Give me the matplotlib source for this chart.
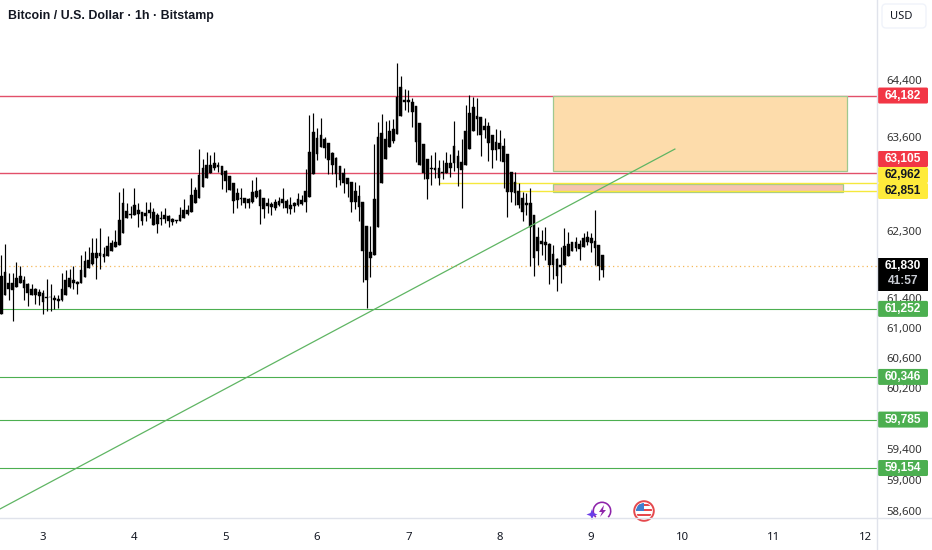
import matplotlib
matplotlib.use("Agg")
import matplotlib.pyplot as plt
import numpy as np
from matplotlib.patches import Circle, FancyBboxPatch, Polygon, Rectangle, Wedge

W, H = 932, 550
PANEL_X, PANEL_Y = 877, 518
FONT = "Noto Sans"
BOLD_FONT = "Liberation Sans"

# hours since the 3rd, one bar per hour
first_hour = -11

wick_high = [
    61982, 62130, 61736, 61736, 61880, 61825, 61700, 61602, 61593, 61535,
    61522, 61504, 61656, 61580, 61445, 61441, 61736, 61781, 61790, 61825,
    61624, 61978, 62027, 62094, 62207, 62207, 62345, 62094, 62240, 62185,
    62322, 62846, 62892, 62686, 62641, 62892, 62686, 62572, 62696, 62696,
    62618, 62550, 62586, 62618, 62518, 62481, 62458, 62632, 62746, 62664,
    63028, 62905, 63440, 63302, 63393, 63347, 63393, 63256, 63198, 63145,
    63063, 62970, 62892, 62892, 62764, 62764, 63006, 63051, 62878, 62755,
    62755, 62709, 62741, 62778, 62892, 62741, 62769, 62709, 62823, 62800,
    63151, 63909, 63942, 63723, 63863, 63597, 63513, 63397, 63325, 63198,
    63165, 63028, 62983, 62974, 62937, 62709, 62376, 62376, 63504, 63816,
    63923, 63830, 63839, 63849, 64645, 64459, 64268, 64259, 64142, 64035,
    63793, 63499, 63302, 63347, 63388, 63279, 63279, 63388, 63370, 63825,
    63420, 63574, 64049, 64189, 64166, 64142, 63886, 63863, 63816, 63630,
    63714, 63700, 63592, 63370, 63110, 63110, 62960, 62846, 62823, 62892,
    62527, 62367, 62322, 62367, 62139, 62117, 61937, 62094, 62345, 62290,
    62162, 62230, 62185, 62276, 62299, 62276, 62595, 62117, 61982,
]
body_top = [
    61700, 61745, 61602, 61602, 61670, 61691, 61638, 61593, 61526, 61522,
    61481, 61459, 61410, 61414, 61401, 61387, 61522, 61647, 61670, 61638,
    61620, 61781, 61893, 61915, 62004, 62004, 62013, 61995, 62108, 62139,
    62162, 62458, 62686, 62586, 62540, 62659, 62591, 62563, 62550, 62595,
    62563, 62527, 62481, 62518, 62504, 62467, 62458, 62522, 62595, 62595,
    62800, 62869, 63074, 63165, 63211, 63211, 63243, 63211, 63198, 63136,
    63063, 62970, 62832, 62764, 62755, 62741, 62837, 62855, 62869, 62755,
    62686, 62673, 62700, 62723, 62741, 62723, 62664, 62686, 62750, 62732,
    62855, 63397, 63676, 63583, 63630, 63569, 63513, 63384, 63316, 63198,
    63097, 63028, 62983, 62860, 62787, 62709, 62376, 62018, 62746, 63597,
    63662, 63569, 63690, 63709, 64166, 64296, 64119, 64119, 64096, 64035,
    63793, 63499, 63302, 63165, 63174, 63165, 63119, 63234, 63243, 63481,
    63338, 63257, 63686, 63942, 64026, 63895, 63877, 63760, 63760, 63630,
    63536, 63513, 63481, 63361, 63110, 62974, 62855, 62755, 62686, 62686,
    62527, 62230, 62171, 62153, 62130, 61991, 61928, 61848, 62108, 62126,
    62153, 62153, 62126, 62217, 62230, 62217, 62171, 62117, 61982,
]
body_bottom = [
    61177, 61436, 61513, 61500, 61548, 61602, 61535, 61460, 61445, 61432,
    61423, 61343, 61401, 61405, 61369, 61356, 61369, 61445, 61548, 61602,
    61580, 61602, 61682, 61803, 61861, 61937, 61960, 61951, 61968, 62036,
    62085, 62117, 62285, 62481, 62527, 62527, 62536, 62436, 62504, 62550,
    62390, 62404, 62472, 62472, 62445, 62422, 62436, 62440, 62481, 62536,
    62563, 62686, 62755, 62914, 63028, 63106, 63165, 63179, 63068, 62985,
    62870, 62723, 62732, 62746, 62686, 62686, 62709, 62778, 62650, 62609,
    62641, 62632, 62618, 62664, 62686, 62618, 62609, 62641, 62664, 62677,
    62705, 62778, 63088, 63370, 63467, 63443, 63279, 63211, 63088, 63006,
    62960, 62946, 62709, 62709, 62632, 62040, 61647, 61937, 61973, 62367,
    62970, 63302, 63467, 63550, 63639, 63895, 64096, 64086, 63947, 63527,
    63211, 63097, 63015, 63151, 63142, 63037, 63097, 63097, 63174, 63234,
    63165, 63142, 63206, 63434, 63686, 63853, 63630, 63700, 63513, 63420,
    63420, 63434, 63257, 62846, 62846, 62823, 62664, 62572, 62664, 62367,
    61937, 62027, 62126, 62117, 61848, 61848, 61691, 61812, 61838, 61960,
    62027, 62081, 62063, 62094, 62162, 62139, 62081, 61825, 61781,
]
wick_low = [
    61177, 61436, 61378, 61088, 61548, 61602, 61378, 61289, 61445, 61311,
    61298, 61177, 61222, 61222, 61253, 61267, 61356, 61445, 61535, 61513,
    61455, 61602, 61682, 61803, 61848, 61656, 61790, 61879, 61968, 62036,
    62085, 62117, 62285, 62481, 62481, 62527, 62354, 62390, 62449, 62481,
    62390, 62285, 62390, 62413, 62367, 62390, 62413, 62440, 62481, 62527,
    62563, 62686, 62755, 62914, 63028, 63097, 63142, 63119, 62878, 62846,
    62870, 62550, 62618, 62664, 62618, 62627, 62686, 62755, 62404, 62481,
    62550, 62518, 62595, 62650, 62618, 62550, 62540, 62572, 62641, 62664,
    62559, 62778, 63088, 63288, 63467, 63316, 63088, 63088, 62905, 62937,
    62823, 62769, 62572, 62604, 62436, 61611, 61260, 61682, 61973, 62367,
    62970, 63302, 63467, 63513, 63639, 63895, 63979, 63956, 63746, 63250,
    63211, 63019, 62741, 62937, 63028, 62937, 63019, 63097, 63051, 63128,
    62928, 62618, 63206, 63434, 63686, 63630, 63338, 63592, 63270, 63174,
    63279, 63270, 62892, 62495, 62709, 62664, 62627, 62436, 62527, 61825,
    61691, 61838, 61982, 61915, 61580, 61660, 61490, 61602, 61838, 61960,
    62027, 62027, 61915, 62094, 62117, 62018, 61848, 61647, 61678,
]

last_price = 61830
red_levels = [64182, 63105]
green_levels = [61252, 60346, 59785, 59154]
yellow_levels = [62962, 62851]
yellow_start_hours = [104, 124.5]

trend_hours = [-11.3, 166]
trend_prices = [58626, 63434]

zone_orange_hours = [134, 211.2]
zone_orange_prices = [63135, 64182]
zone_pink_hours = [134, 210.2]
zone_pink_prices = [62842, 62952]

price_ticks = [64400, 63600, 62300, 61400, 61000, 60600, 60200, 59400, 59000, 58600]
day_labels = [3, 4, 5, 6, 7, 8, 9, 10, 11, 12]
title_text = "Bitcoin / U.S. Dollar · 1h · Bitstamp"

RED = "#f23645"
GREEN = "#4caf50"
YELLOW = "#ffeb3b"
TEXT = "#131722"
BORDER = "#e0e3eb"

fig = plt.figure(figsize=(W / 100, H / 100), dpi=100, facecolor="white")
ax = fig.add_axes([0, (H - PANEL_Y) / H, PANEL_X / W, PANEL_Y / H])

hours = first_hour + np.arange(len(wick_high))
ax.vlines(hours, wick_low, wick_high, color="black", lw=0.85, zorder=3)
ax.bar(
    hours,
    np.array(body_top) - np.array(body_bottom),
    bottom=body_bottom,
    width=0.72,
    color="black",
    linewidth=0.3,
    edgecolor="black",
    zorder=3,
)

for p in red_levels:
    ax.axhline(p, color="#e2506a", lw=1.0, zorder=2)
for p in green_levels:
    ax.axhline(p, color=GREEN, lw=0.8, zorder=2)
for p, start in zip(yellow_levels, yellow_start_hours):
    ax.plot([start, 230], [p, p], color="#f5e83c", lw=1.0, zorder=2.7)
ax.axhline(last_price, color="#f5b85a", lw=0.9, ls=(0, (1, 2.5)), zorder=1)
ax.plot(trend_hours, trend_prices, color="#5fb563", lw=0.9, zorder=4)

ax.add_patch(
    Rectangle(
        (zone_orange_hours[0], zone_orange_prices[0]),
        zone_orange_hours[1] - zone_orange_hours[0],
        zone_orange_prices[1] - zone_orange_prices[0],
        facecolor="#fddcab",
        edgecolor="#9fc88f",
        lw=0.9,
        zorder=2.5,
    )
)
ax.add_patch(
    Rectangle(
        (zone_pink_hours[0], zone_pink_prices[0]),
        zone_pink_hours[1] - zone_pink_hours[0],
        zone_pink_prices[1] - zone_pink_prices[0],
        facecolor="#f5c4b0",
        edgecolor="#9fc88f",
        lw=0.9,
        zorder=2.5,
    )
)

ax.set_yscale("log")
ax.set_xlim(-11.3, 219.1)
ax.set_ylim(58510, 65539)
ax.set_xticks([(d - 3) * 24 for d in day_labels])
ax.set_xticklabels([str(d) for d in day_labels], fontfamily=FONT, fontsize=8.2, color=TEXT)
ax.yaxis.tick_right()
ax.set_yticks(price_ticks)
ax.set_yticklabels([f"{p:,}" for p in price_ticks], fontfamily=FONT, fontsize=8.2, color="#333333",
                   va="center_baseline")
ax.set_yticks([], minor=True)
ax.tick_params(axis="x", length=0, pad=10)
ax.tick_params(axis="y", length=0, pad=6.5)
for spine in ax.spines.values():
    spine.set_visible(False)

ax.text(
    8 / PANEL_X,
    1 - 16 / PANEL_Y,
    title_text,
    transform=ax.transAxes,
    fontfamily=BOLD_FONT,
    fontsize=8.9,
    fontweight="bold",
    color=TEXT,
    va="center",
)

# pixel overlay for the price badges and small chart furniture
over = fig.add_axes([0, 0, 1, 1], zorder=5)
over.set_xlim(0, W)
over.set_ylim(H, 0)
over.axis("off")
over.patch.set_alpha(0)

over.plot([PANEL_X, PANEL_X], [0, H], color=BORDER, lw=1.0)
over.plot([0, W], [PANEL_Y, PANEL_Y], color=BORDER, lw=1.0)


def price_to_pixel(price):
    return H - ax.transData.transform((0, price))[1]


def badge(y_top, height, color, label, text_color="white"):
    over.add_patch(
        FancyBboxPatch(
            (878, y_top),
            50,
            height,
            boxstyle="round,pad=0,rounding_size=1.5",
            facecolor=color,
            edgecolor="none",
        )
    )
    over.text(903, y_top + 8, label, ha="center", va="center", fontfamily=BOLD_FONT,
              fontsize=8.6, fontweight="bold", color=text_color)


# the red label for the lower level sits above the yellow pair, as stacked labels do
badge(price_to_pixel(red_levels[0]) - 8, 16, RED, f"{red_levels[0]:,}")
badge(151, 16, RED, f"{red_levels[1]:,}")
for p in green_levels:
    badge(price_to_pixel(p) - 8, 16, GREEN, f"{p:,}")
for p, y_top in zip(yellow_levels, [167, 183]):
    badge(y_top, 16, YELLOW, f"{p:,}", text_color=TEXT)

last_y = price_to_pixel(last_price)
over.add_patch(Rectangle((878, last_y - 8), 50, 33, facecolor="black", edgecolor="none"))
over.text(903, last_y, f"{last_price:,}", ha="center", va="center", fontfamily=BOLD_FONT,
          fontsize=8.6, fontweight="bold", color="white")
over.text(903, last_y + 15, "41:57", ha="center", va="center", fontfamily=BOLD_FONT,
          fontsize=8.6, fontweight="bold", color="#c8cbd3")

# currency button
over.add_patch(
    FancyBboxPatch(
        (882, 4), 44, 24, boxstyle="round,pad=0,rounding_size=4",
        facecolor="white", edgecolor="#f0f3fa", lw=1.0,
    )
)
over.text(901, 16.5, "USD", ha="center", va="center", fontfamily=FONT, fontsize=8, color=TEXT)

# bolt icon
over.add_patch(Wedge((602, 511), 9.5, 135, 45, width=1.6, facecolor="#8e24aa", edgecolor="none"))
over.add_patch(
    Polygon(
        [(604, 505), (599, 512), (602, 512), (600, 517), (606, 510), (603, 510)],
        facecolor="#8e24aa",
        edgecolor="none",
    )
)
over.add_patch(
    Polygon(
        [(592, 509), (593.5, 513), (597.5, 514.5), (593.5, 516), (592, 520),
         (590.5, 516), (586.5, 514.5), (590.5, 513)],
        facecolor="#6a3de8",
        edgecolor="none",
    )
)

# flag icon
over.add_patch(Circle((644, 511), 9.8, facecolor="white", edgecolor="#e5484d", lw=1.4))
flag_clip = Circle((644, 511), 8, transform=over.transData)
for top in (503.5, 508.5, 513.5):
    stripe = Rectangle((634, top), 20, 2.8, facecolor="#e5484d", edgecolor="none")
    over.add_patch(stripe)
    stripe.set_clip_path(flag_clip)
canton = Rectangle((634, 502), 10, 9, facecolor="#3f7fd0", edgecolor="none")
over.add_patch(canton)
canton.set_clip_path(flag_clip)

fig.savefig("out.png", dpi=100, facecolor="white")
plt.close(fig)
